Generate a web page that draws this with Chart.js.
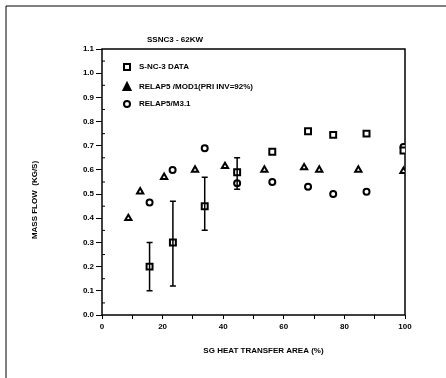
<!DOCTYPE html>
<html>
<head>
<meta charset="utf-8">
<script src="https://cdn.jsdelivr.net/npm/chart.js@4"></script>
<style>
  html, body { margin: 0; padding: 0; background: #fff; }
  #wrap { width: 446px; height: 378px; }
</style>
</head>
<body>
<div id="wrap"><canvas id="chart" width="446" height="378"></canvas></div>
<script>
// Data
const dataX = [15.7, 23.4, 33.9, 44.6, 56.2, 68.0, 76.3, 87.3, 99.5];
const dataY = [0.20, 0.30, 0.45, 0.59, 0.675, 0.76, 0.745, 0.75, 0.68];
const dataLow = [0.10, 0.12, 0.35, 0.52, null, null, null, null, null];
const dataHigh = [0.30, 0.47, 0.57, 0.65, null, null, null, null, null];

const mod1X = [8.7, 12.6, 20.5, 30.7, 40.6, 53.6, 66.7, 71.7, 84.6, 99.5];
const mod1Y = [0.40, 0.51, 0.57, 0.60, 0.615, 0.60, 0.61, 0.60, 0.60, 0.595];

const m31X = [15.7, 23.3, 33.9, 44.6, 56.2, 68.0, 76.3, 87.3, 99.5];
const m31Y = [0.465, 0.60, 0.69, 0.545, 0.55, 0.53, 0.50, 0.51, 0.695];

const xTicks = [0, 20, 40, 60, 80, 100];
const yTicks = [0.0, 0.1, 0.2, 0.3, 0.4, 0.5, 0.6, 0.7, 0.8, 0.9, 1.0, 1.1];

const legendLabels = ['S-NC-3 DATA', 'RELAP5 /MOD1(PRI INV=92%)', 'RELAP5/M3.1'];
const chartTitle = 'SSNC3 - 62KW';
const xTitle = 'SG HEAT TRANSFER AREA (%)';
const yTitle = 'MASS FLOW  (KG/S)';

const FONT = 'bold 8px "Liberation Sans", Arial, sans-serif';

function pts(xs, ys) {
    return xs.map((x, i) => ({ x: x, y: ys[i] }));
}

// Error bars for the test data
const errorBars = {
    id: 'errorBars',
    afterDatasetsDraw(chart) {
        const ctx = chart.ctx;
        const xs = chart.scales.x, ys = chart.scales.y;
        ctx.save();
        ctx.strokeStyle = '#000';
        ctx.lineWidth = 1.5;
        dataX.forEach((x, i) => {
            if (dataLow[i] == null) return;
            const px = xs.getPixelForValue(x);
            const lo = ys.getPixelForValue(dataLow[i]);
            const hi = ys.getPixelForValue(dataHigh[i]);
            ctx.beginPath();
            ctx.moveTo(px, lo); ctx.lineTo(px, hi);
            ctx.moveTo(px - 3, lo); ctx.lineTo(px + 3, lo);
            ctx.moveTo(px - 3, hi); ctx.lineTo(px + 3, hi);
            ctx.stroke();
        });
        ctx.restore();
    }
};

// Frame, minor ticks, titles and legend
const decor = {
    id: 'decor',
    beforeDatasetsDraw(chart) {
        const ctx = chart.ctx;
        const a = chart.chartArea;
        const ys = chart.scales.y;
        ctx.save();
        ctx.strokeStyle = '#000';
        ctx.lineWidth = 1.5;
        ctx.strokeRect(a.left, a.top, a.right - a.left, a.bottom - a.top);
        // minor y ticks
        ctx.lineWidth = 1;
        for (let v = 0.05; v < 1.1; v += 0.1) {
            const py = ys.getPixelForValue(v);
            ctx.beginPath();
            ctx.moveTo(a.left, py); ctx.lineTo(a.left + 3, py);
            ctx.stroke();
        }
        // page frame (top and left)
        ctx.beginPath();
        ctx.moveTo(6, 378); ctx.lineTo(6, 6); ctx.lineTo(446, 6);
        ctx.stroke();

        ctx.fillStyle = '#000';
        ctx.font = FONT;
        ctx.textAlign = 'center';
        ctx.textBaseline = 'middle';
        ctx.fillText(chartTitle, 175, 40);
        ctx.fillText(xTitle, (a.left + a.right) / 2 + 10, 351);
        ctx.save();
        ctx.translate(35, 200);
        ctx.rotate(-Math.PI / 2);
        ctx.fillText(yTitle, 0, 0);
        ctx.restore();

        // legend
        const lx = a.left + 25;
        const rows = [67, 87, 104];
        ctx.textAlign = 'left';
        ctx.lineWidth = 2;
        rows.forEach((ry, i) => {
            ctx.beginPath();
            if (i === 0) {
                ctx.rect(lx - 3, ry - 3, 6, 6);
            } else if (i === 1) {
                ctx.moveTo(lx, ry - 4); ctx.lineTo(lx + 3.5, ry + 3); ctx.lineTo(lx - 3.5, ry + 3); ctx.closePath();
                ctx.fill();
            } else {
                ctx.arc(lx, ry, 3, 0, Math.PI * 2);
            }
            ctx.stroke();
            ctx.fillText(legendLabels[i], lx + 12, ry);
        });
        ctx.restore();
    }
};

const common = {
    showLine: false,
    borderColor: '#000',
    backgroundColor: '#fff',
    borderWidth: 2
};

new Chart(document.getElementById('chart'), {
    type: 'scatter',
    data: {
        datasets: [
            Object.assign({ label: legendLabels[0], data: pts(dataX, dataY), pointStyle: 'rect', pointRadius: 4.2 }, common),
            Object.assign({ label: legendLabels[1], data: pts(mod1X, mod1Y), pointStyle: 'triangle', pointRadius: 3.6 }, common),
            Object.assign({ label: legendLabels[2], data: pts(m31X, m31Y), pointStyle: 'circle', pointRadius: 3 }, common)
        ]
    },
    options: {
        responsive: false,
        animation: false,
        layout: { padding: { left: 0, right: 41, top: 49, bottom: 0 } },
        plugins: {
            legend: { display: false },
            tooltip: { enabled: false }
        },
        scales: {
            x: {
                type: 'linear',
                min: 0,
                max: 100,
                afterFit: s => { s.height = 63; },
                afterBuildTicks: s => {
                    s.ticks = [];
                    for (let v = 0; v <= 100; v += 10) s.ticks.push({ value: v });
                },
                border: { display: false },
                grid: { drawOnChartArea: false, drawTicks: true, tickLength: 4, color: '#000', lineWidth: 1 },
                ticks: {
                    color: '#000',
                    font: { size: 8, weight: 'bold', family: '"Liberation Sans", Arial, sans-serif' },
                    padding: 3,
                    maxRotation: 0,
                    autoSkip: false,
                    callback: v => xTicks.includes(v) ? String(v) : ''
                }
            },
            y: {
                type: 'linear',
                min: 0,
                max: 1.1,
                afterFit: s => { s.width = 102; },
                afterBuildTicks: s => { s.ticks = yTicks.map(v => ({ value: v })); },
                border: { display: false },
                grid: { drawOnChartArea: false, drawTicks: true, tickLength: 6, color: '#000', lineWidth: 1 },
                ticks: {
                    color: '#000',
                    font: { size: 8, weight: 'bold', family: '"Liberation Sans", Arial, sans-serif' },
                    padding: 2,
                    callback: v => v.toFixed(1)
                }
            }
        }
    },
    plugins: [decor, errorBars]
});
</script>
</body>
</html>
